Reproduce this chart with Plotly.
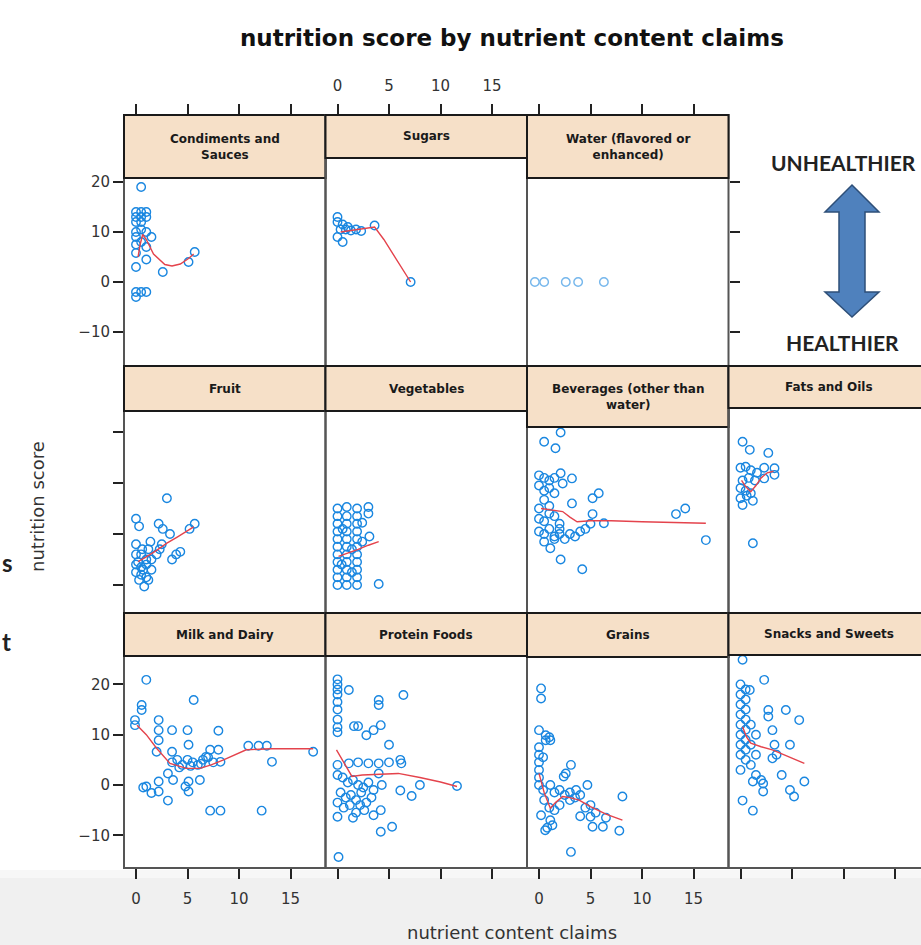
import plotly.graph_objects as go

W, H = 921, 945

# ---------------- data ----------------
X_TICKS = [0, 5, 10, 15]
Y_TICKS = [-10, 0, 10, 20]

cond_x = [0.5, 0, 0.5, 1.0, 0, 0.5, 1.0, 0, 0.5, 0, 0.5, 1.0, 1.5, 0, 0.5, 0, 1.0, 0, 1.0, 0, 2.6, 5.1, 5.7, 0, 0.5, 1.0, 0]
cond_y = [19, 14, 14, 14, 13, 13, 13, 12, 12, 10, 10.5, 10, 9, 9, 8, 7.5, 7, 5.8, 4.5, 3, 2, 4, 6, -2, -2, -2, -3]
cond_fx = [0.2, 0.4, 0.65, 1.0, 1.7, 2.8, 3.5, 4.3, 5.1, 5.6]
cond_fy = [5, 7.5, 9.5, 8.5, 5.6, 3.5, 3.2, 3.6, 4.7, 5.6]

sug_x = [0, 0, 0.5, 1.0, 0.3, 0.8, 1.3, 1.8, 2.3, 3.6, 0, 0.5, 7.1]
sug_y = [13, 12, 11.5, 11, 10.5, 10.5, 10.3, 10.5, 10.2, 11.3, 9, 8, 0]
sug_fx = [0.3, 1, 2, 3, 3.6, 4.5, 5.5, 6.3, 7.1]
sug_fy = [10, 10.2, 10.5, 10.8, 11, 8.5, 5.3, 2.7, 0]

wat_x = [-0.4, 0.5, 2.6, 3.8, 6.3]
wat_y = [0, 0, 0, 0, 0]

fruit_x = [3.0, 0, 0.3, 2.2, 2.6, 3.3, 5.2, 5.7, 4.3, 3.5, 3.9, 1.4, 0, 0.5, 1.0, 0, 0.5, 1.0, 1.5, 0, 0.5, 1.0, 0.3, 0.8, 1.5, 2.0, 2.5, 1.2, 0.2, 0.7, 1.2, 2.3, 0, 0.6]
fruit_y = [7, 3, 1.5, 2, 1, 0, 1, 2, -3.5, -5, -4, -1.5, -4, -4, -5, -6, -6.5, -6, -7, -7.5, -8, -8.5, -9, -10.3, -5, -4, -2, -3, -5.5, -7, -9, -3, -2, -3]
fruit_fx = [0.2, 1, 2, 3, 4, 5, 5.6]
fruit_fy = [-5.4, -4.5, -3.2, -1.8, -0.6, 0.6, 1.4]

veg_x = [0, 0, 0, 0, 0, 0, 0, 0, 0, 0, 0,
         0.9, 0.9, 0.9, 0.9, 0.9, 0.9, 0.9, 0.9, 0.9, 0.9, 0.9,
         1.9, 1.9, 1.9, 1.9, 1.9, 1.9, 1.9, 1.9, 1.9, 1.9, 1.9,
         3.0, 3.0, 3.1, 2.4, 2.4, 0.4, 1.4, 1.4, 0.5, 4.0]
veg_y = [5, 3.5, 2, 0.5, -1, -2.5, -4, -5.5, -7, -8.5, -10,
         5.3, 3.5, 2, 0.5, -1, -2.5, -4, -5.5, -7, -8.5, -10,
         5, 3.5, 2, 0.5, -1, -2.5, -4, -5.5, -7, -8.5, -10,
         5.3, 4, -0.5, 2.2, -1.5, -6, -3, -7.5, 1, -9.8]
veg_fx = [0.1, 1, 2, 3, 4]
veg_fy = [-4.4, -3.8, -3, -2.2, -1.5]

bev_x = [2.1, 0.5, 1.6, 0, 0.5, 1.0, 1.5, 2.1, 3.2, 2.3, 0, 0.5, 1.0, 1.5, 5.8, 5.2, 3.2, 0.5, 5.2, 6.3, 13.3, 14.2, 16.2, 1.1, 2.1, 4.2,
         0, 0.5, 1.0, 1.5, 2.0, 2.5, 3.0, 3.5, 4.0, 4.5, 5.0, 0, 0.5, 1.0, 1.5, 2.0, 0, 1.0, 2.0, 0.5, 1.5]
bev_y = [19.9, 18.1, 16.8, 11.5, 11, 10.5, 11, 11.9, 10.9, 9.9, 9.5, 8.5, 9, 8, 8, 7, 6, 6.7, 3.9, 2.1, 3.9, 5, -1.2, -2.8, -5, -6.9,
         0.5, 0, 1, -0.5, 0, -1, 0, -0.5, 0.5, 1, 2, 3, 2.5, 4, 3.5, 2, 5, 5.5, 1, -1.5, -1]
bev_fx = [0.2, 1, 2.3, 3, 3.7, 5, 7, 10, 13, 16.2]
bev_fy = [5, 4.8, 4.4, 3.3, 2.4, 2.6, 2.6, 2.4, 2.3, 2.1]

fat_x = [0.2, 0.9, 2.7, 0, 0.5, 1.0, 1.6, 2.3, 3.3, 3.3, 2.3, 0.2, 0.8, 1.4, 0, 0.5, 1.0, 0, 0.6, 1.2, 0.2, 1.2]
fat_y = [18.1, 16.5, 15.9, 13, 13.2, 12.5, 12, 13, 12.9, 11.6, 10.9, 10.5, 11, 10.5, 9, 8.5, 8, 7, 7.5, 6.5, 5.7, -1.8]
fat_fx = [0.1, 0.5, 1.0, 1.5, 2.0, 2.6, 3.2]
fat_fy = [10.5, 9.3, 8.3, 9.5, 11, 12, 12.3]

milk_x = [1.0, 5.6, 0.55, 0.55, -0.1, -0.1, 2.2, 3.5, 2.2, 5.0, 8.0, 2.2, 5.1, 2.0, 3.5, 7.2, 8.0, 10.9, 11.9, 12.7, 17.2, 13.2,
          3.5, 4.0, 4.5, 5.0, 5.5, 6.0, 6.5, 7.0, 7.5, 8.2, 4.2, 5.3, 6.3, 3.1, 3.6, 5.1, 6.2, 1.0, 0.7, 2.2, 2.2, 3.1, 5.1, 4.8,
          7.2, 8.2, 12.2, 1.5, 6.8]
milk_y = [20.9, 16.9, 15.9, 14.9, 12.9, 11.9, 12.9, 10.9, 10.9, 10.9, 10.8, 8.9, 8, 6.6, 6.6, 7, 7, 7.8, 7.8, 7.8, 6.6, 4.6,
          4.5, 5, 4, 5, 4.5, 4, 5, 5.5, 4.5, 4.6, 3.5, 3.8, 4.2, 2.3, 1, 0.7, 1, -0.3, -0.5, 0.7, -1.3, -3.1, -1.3, -0.3,
          -5.1, -5.1, -5.1, -1.6, 5.6]
milk_fx = [0.1, 1, 2, 3.3, 4.9, 6.2, 7.3, 8.5, 10.7, 13, 17.2]
milk_fy = [11.9, 10, 7.3, 4.3, 3.3, 3.3, 4, 5, 7, 7.2, 7.2]

prot_x = [0, 0, 0, 0, 0, 0, 0, 0, 0, 1.1, 4.0, 4.0, 6.4, 1.6, 2.0, 4.2, 3.5, 2.8, 5.0, 0, 1.1, 2.0, 3.0, 4.0, 5.0, 6.2, 6.1,
          4.0, 8.0, 11.6, 6.1, 7.2, 4.3, 0, 0.5, 1, 1.5, 2, 2.5, 3, 3.5, 0.3, 0.8, 1.3, 1.8, 2.3, 2.8, 3.3, 0, 0.6, 1.2, 1.8,
          2.6, 4.2, 3.5, 5.3, 4.2, 0, 0.1, 1.5, 2.2]
prot_y = [21, 20, 19, 18, 16.5, 15, 13, 11.5, 10.5, 18.9, 16.9, 15.9, 17.9, 11.7, 11.7, 11.9, 10.9, 9.9, 8, 4, 4.3, 4.5, 4.3,
          4.3, 4.5, 4.3, 5, 2.3, 0, -0.2, -1.1, -2.2, 0, 2, 1.5, 0.5, 1, 0, -0.5, 0.5, -1, -1.5, -2.5, -2, -3, -1.5, -3.5,
          -2.5, -3.5, -4.5, -4, -5.5, -5, -5, -6, -8.3, -9.3, -6.3, -14.3, -6.5, -4]
prot_fx = [-0.1, 0.7, 1.4, 2.4, 4, 5.9, 8, 10, 11.6]
prot_fy = [7, 4.2, 1.7, 2, 2.2, 2.3, 1.5, 0.6, -0.3]

grain_x = [0.2, 0.2, 0, 0.65, 1.1, 0.65, 1.0, 0, 0, 0, 0, 0, 0, 0.4, 0.4, 3.1, 2.6, 2.4, 4.7, 3.6, 1.1, 1.5, 2.0, 2.5, 3.0,
           3.5, 4.0, 8.1, 5.0, 4.0, 5.0, 5.2, 6.2, 7.8, 0.2, 0.6, 1.1, 3.1, 1.5, 0.5, 1.0, 2.0, 3.0, 4.5, 5.5, 6.5, 1.3, 0.8]
grain_y = [19.2, 17.2, 10.9, 8.9, 8.9, 9.9, 9.5, 7.5, 6, 4.5, 3, 1.5, 0, -1, 5.5, 4, 2.3, 1.7, 0, -1, 0, -1.5, -1, -2, -1.5,
           -2.5, -2, -2.3, -4, -6.2, -6.3, -8.3, -8.3, -9.1, -6, -9, -7, -13.3, -5, -3, -4.5, -4, -3, -4.5, -5.5, -6.5, -8, -8.5]
grain_fx = [0, 0.5, 1.1, 1.6, 2.3, 3.0, 3.9, 5, 6.5, 8.1]
grain_fy = [2.3, -1.5, -4.6, -3.5, -2.3, -2.5, -3, -4.3, -5.8, -7]

snack_x = [0.2, 2.3, 0, 0.5, 0, 0.5, 0.9, 0, 0.5, 0, 0.5, 0, 0.5, 0, 0.5, 0, 0.5, 0, 0.5, 0, 2.7, 4.4, 5.7, 2.7, 3.1, 4.8,
           3.3, 3.1, 3.5, 4.0, 6.2, 4.8, 5.2, 2.2, 2.2, 0.2, 1.2, 1.2, 1.0, 1.5, 1.0, 1.5, 1.0, 2.0, 1.5]
snack_y = [24.9, 20.9, 20, 19, 18, 17, 18.9, 16, 15, 14, 13, 12, 11, 10, 9, 8, 7, 6, 5, 3, 14.9, 14.9, 12.9, 13.6, 10.9, 8,
           8, 5.3, 6, 2, 0.7, -1, -2.3, 0.3, -1.3, -3.1, -5.1, 0.7, 12, 10, 8, 6, 4, 1, 2]
snack_fx = [0.2, 0.6, 1.0, 2.0, 3.1, 4.5, 6.2]
snack_fy = [11.6, 9.5, 8.3, 7.6, 7, 5.8, 4.3]

# (title, x, y, fit x, fit y)
PANELS = [
    ("Condiments and<br>Sauces", cond_x, cond_y, cond_fx, cond_fy),
    ("Sugars", sug_x, sug_y, sug_fx, sug_fy),
    ("Water (flavored or<br>enhanced)", wat_x, wat_y, None, None),
    ("Fruit", fruit_x, fruit_y, fruit_fx, fruit_fy),
    ("Vegetables", veg_x, veg_y, veg_fx, veg_fy),
    ("Beverages (other than<br>water)", bev_x, bev_y, bev_fx, bev_fy),
    ("Fats and Oils", fat_x, fat_y, fat_fx, fat_fy),
    ("Milk and Dairy", milk_x, milk_y, milk_fx, milk_fy),
    ("Protein Foods", prot_x, prot_y, prot_fx, prot_fy),
    ("Grains", grain_x, grain_y, grain_fx, grain_fy),
    ("Snacks and Sweets", snack_x, snack_y, snack_fx, snack_fy),
]

# ---------------- layout geometry (pixels) ----------------
PLACE = [(1, 0, 178), (1, 1, 158), (1, 2, 178),
         (2, 0, 411), (2, 1, 411), (2, 2, 427), (2, 3, 408),
         (3, 0, 656), (3, 1, 656), (3, 2, 657), (3, 3, 655)]
COL_LEFT = [124, 325.5, 527, 728.5]
COL_W = 201.5
X_OFF, X_PPU = 12, 10.3
ROWS = {1: dict(top=115, bottom=366, y0=282, ppu=5.0),
        2: dict(top=366, bottom=613, y0=534, ppu=5.1),
        3: dict(top=613, bottom=868, y0=785, ppu=5.03)}

PT_COLOR = "#1a87e0"
FIT_COLOR = "#e4434c"
STRIP_FILL = "#f6e0c8"
TICKFONT = dict(family="DejaVu Sans", size=15, color="#333333")


def px(x):
    return x / W


def py(y):
    return 1 - y / H


fig = go.Figure()
layout = dict(width=W, height=H, margin=dict(l=0, r=0, t=0, b=0),
              paper_bgcolor="white", plot_bgcolor="rgba(0,0,0,0)", showlegend=False)
shapes = []
annotations = []

# light gray band at bottom
shapes.append(dict(type="rect", xref="paper", yref="paper", x0=0, x1=1, y0=0, y1=py(878),
                   fillcolor="#f0f0f0", line=dict(width=0), layer="below"))
shapes.append(dict(type="rect", xref="paper", yref="paper", x0=0, x1=1, y0=py(878), y1=py(870),
                   fillcolor="#f7f7f7", line=dict(width=0), layer="below"))

for k, ((title, xs, ys, fx, fy), (row, col, sb)) in enumerate(zip(PANELS, PLACE), start=1):
    r = ROWS[row]
    L = COL_LEFT[col]
    R = min(L + COL_W, W)
    xname = "xaxis" if k == 1 else f"xaxis{k}"
    yname = "yaxis" if k == 1 else f"yaxis{k}"
    xref = "x" if k == 1 else f"x{k}"
    yref = "y" if k == 1 else f"y{k}"

    xticks = "outside" if row in (1, 3) else ""
    xlabels = (row == 1 and col == 1) or (row == 3 and col in (0, 2))
    layout[xname] = dict(domain=[px(L), px(R)], anchor=yref,
                         range=[-X_OFF / X_PPU, (R - L - X_OFF) / X_PPU],
                         showgrid=False, zeroline=False, showline=False,
                         tickvals=X_TICKS, ticks=xticks, ticklen=10, tickwidth=1.6,
                         tickcolor="#222222", side="top" if row == 1 else "bottom",
                         showticklabels=xlabels, tickfont=TICKFONT, ticklabelstandoff=7,
                         fixedrange=True)

    yside = "left"
    yt = ""
    ylab = False
    if col == 0:
        yt = "outside"
        ylab = row in (1, 3)
    if row == 1 and col == 2:
        yt = "outside"
        yside = "right"
    layout[yname] = dict(domain=[py(r["bottom"]), py(r["top"])], anchor=xref,
                         range=[(r["y0"] - r["bottom"]) / r["ppu"], (r["y0"] - r["top"]) / r["ppu"]],
                         showgrid=False, zeroline=False, showline=False,
                         tickvals=Y_TICKS, ticks=yt, ticklen=10, tickwidth=1.6,
                         tickcolor="#222222", side=yside, showticklabels=ylab,
                         tickfont=TICKFONT, fixedrange=True)

    op = 0.6 if fx is None else 1.0
    fig.add_trace(go.Scatter(x=xs, y=ys, mode="markers", xaxis=xref, yaxis=yref,
                             marker=dict(symbol="circle-open", size=8.5, color=PT_COLOR,
                                         line=dict(width=1.4, color=PT_COLOR)),
                             opacity=op, hoverinfo="skip"))
    if fx is not None:
        fig.add_trace(go.Scatter(x=fx, y=fy, mode="lines", xaxis=xref, yaxis=yref,
                                 line=dict(color=FIT_COLOR, width=1.4), hoverinfo="skip"))

    # panel border
    shapes.append(dict(type="rect", xref="paper", yref="paper",
                       x0=px(L), x1=px(L + COL_W), y0=py(r["bottom"]), y1=py(r["top"]),
                       line=dict(color="#555555", width=2), fillcolor="rgba(0,0,0,0)", layer="above"))
    # strip
    shapes.append(dict(type="rect", xref="paper", yref="paper",
                       x0=px(L), x1=px(L + COL_W), y0=py(sb), y1=py(r["top"]),
                       line=dict(color="#1a1a1a", width=2), fillcolor=STRIP_FILL, layer="above"))
    annotations.append(dict(xref="paper", yref="paper", x=px(L + COL_W / 2),
                            y=py((r["top"] + sb) / 2), text=f"<b>{title}</b>", showarrow=False,
                            font=dict(family="DejaVu Sans", size=12, color="#1a1a1a"),
                            xanchor="center", yanchor="middle"))

# double-headed arrow (decoration)
arrow_pts = [(852, 185), (879, 212), (865, 212), (865, 292), (879, 292), (852, 317),
             (825, 292), (839, 292), (839, 212), (825, 212)]
path = "M " + " L ".join(f"{px(a):.5f},{py(b):.5f}" for a, b in arrow_pts) + " Z"
shapes.append(dict(type="path", xref="paper", yref="paper", path=path,
                   fillcolor="#4f81bd", line=dict(color="#2e4f78", width=1.5), layer="above"))

annotations += [
    dict(xref="paper", yref="paper", x=px(512), y=py(38),
         text="<b>nutrition score by nutrient content claims</b>", showarrow=False,
         font=dict(family="DejaVu Sans", size=23, color="#111111"), xanchor="center", yanchor="middle"),
    dict(xref="paper", yref="paper", x=px(37), y=py(507), text="nutrition score", textangle=-90,
         showarrow=False, font=dict(family="DejaVu Sans", size=18, color="#333333"),
         xanchor="center", yanchor="middle"),
    dict(xref="paper", yref="paper", x=px(512), y=py(932), text="nutrient content claims",
         showarrow=False, font=dict(family="DejaVu Sans", size=18, color="#333333"),
         xanchor="center", yanchor="middle"),
    dict(xref="paper", yref="paper", x=px(843), y=py(162), text="<b>UNHEALTHIER</b>",
         showarrow=False, font=dict(family="Lato", size=21, color="#222222"),
         xanchor="center", yanchor="middle"),
    dict(xref="paper", yref="paper", x=px(842), y=py(343), text="<b>HEALTHIER</b>",
         showarrow=False, font=dict(family="Lato", size=21, color="#222222"),
         xanchor="center", yanchor="middle"),
    dict(xref="paper", yref="paper", x=0, y=py(562), text="<b>s</b>",
         showarrow=False, font=dict(family="Lato", size=24, color="#222222"),
         xanchor="left", yanchor="middle"),
    dict(xref="paper", yref="paper", x=0, y=py(641), text="<b>t</b>",
         showarrow=False, font=dict(family="Lato", size=24, color="#222222"),
         xanchor="left", yanchor="middle"),
]

layout["shapes"] = shapes
layout["annotations"] = annotations
fig.update_layout(**layout)
fig.write_html("out.html")
